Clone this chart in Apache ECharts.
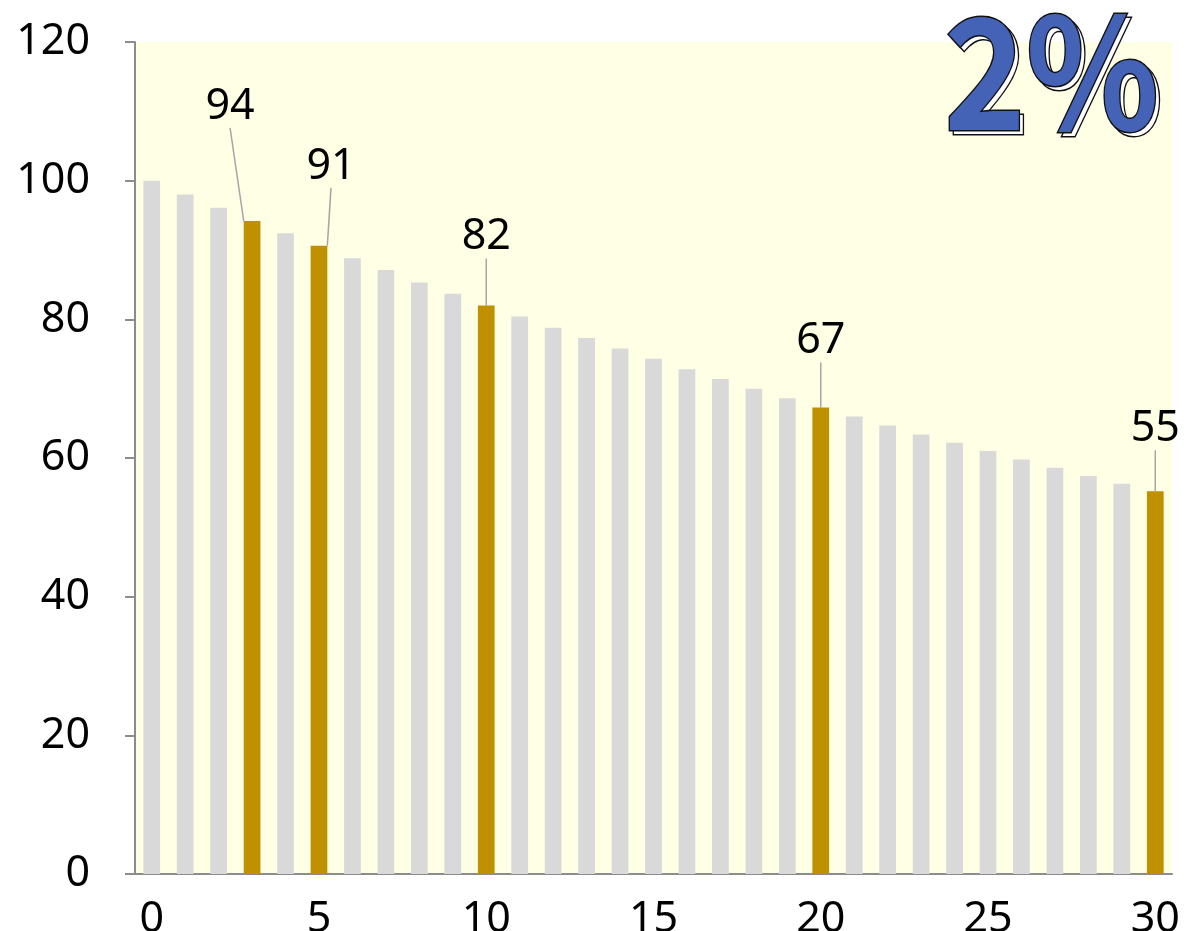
<!DOCTYPE html>
<html>
<head>
<meta charset="utf-8">
<script src="https://cdn.jsdelivr.net/npm/echarts@6/dist/echarts.min.js"></script>
<style>
  html, body { margin: 0; padding: 0; background: #fff; }
  #chart { width: 1203px; height: 931px; }
</style>
</head>
<body>
<div id="chart"></div>
<script>
// years 0..30
var years = [];
for (var i = 0; i <= 30; i++) years.push(String(i));

// value
var values = [100.0, 98.0, 96.1, 94.2, 92.4, 90.6, 88.8, 87.1, 85.3, 83.7,
  82.0, 80.4, 78.8, 77.3, 75.8, 74.3, 72.8, 71.4, 70.0, 68.6,
  67.3, 66.0, 64.7, 63.4, 62.2, 61.0, 59.8, 58.6, 57.4, 56.3, 55.2];

// highlighted years (gold bars with labels)
var highlight = [3, 5, 10, 20, 30];

var yTicks = [0, 20, 40, 60, 80, 100, 120];
var rateText = '2%';

var FONT = '"Noto Sans", sans-serif';
var BIG_FONT = '"Noto Sans CJK JP", "Noto Sans", sans-serif';

// label offsets (px) for the highlighted bars
var labelShift = { 3: [-22, -88], 5: [12, -53], 10: [0, -42], 20: [0, -40], 30: [0, -36] };

var barData = values.map(function (v, i) {
  var on = highlight.indexOf(i) >= 0;
  return {
    value: v,
    itemStyle: { color: on ? '#BF9000' : '#D9D9D9' },
    label: { show: on }
  };
});

var myChart = echarts.init(document.getElementById('chart'));

var option = {
  animation: false,
  grid: {
    left: 135, right: 31, top: 42, bottom: 57,
    outerBoundsMode: 'none',
    show: true, backgroundColor: '#FFFFE5', borderWidth: 0
  },
  xAxis: {
    type: 'category',
    data: years,
    boundaryGap: true,
    axisLine: { lineStyle: { color: '#8C8C8C', width: 2 } },
    axisTick: { interval: 4, length: 10, lineStyle: { color: '#8C8C8C', width: 2 } },
    axisLabel: { interval: 4, margin: 24, color: '#000', fontSize: 43, fontFamily: FONT }
  },
  yAxis: {
    type: 'value',
    min: yTicks[0], max: yTicks[yTicks.length - 1], interval: 20,
    axisLine: { show: true, lineStyle: { color: '#8C8C8C', width: 2 } },
    axisTick: { show: true, length: 10, lineStyle: { color: '#8C8C8C', width: 2 } },
    splitLine: { show: false },
    axisLabel: { margin: 45, color: '#000', fontSize: 43, fontFamily: FONT }
  },
  series: [{
    type: 'bar',
    data: barData,
    barWidth: '50%',
    label: {
      position: 'top',
      distance: 5,
      color: '#000',
      fontSize: 43,
      fontFamily: FONT,
      formatter: function (p) { return Math.round(p.value); }
    },
    labelLine: { show: true, lineStyle: { color: '#A6A6A6', width: 1.5 } },
    labelLayout: function (p) {
      var s = labelShift[p.dataIndex];
      return s ? { dx: s[0], dy: s[1] } : {};
    }
  }],
  graphic: [{
    type: 'text', x: 948, y: -2, scaleX: 0.9, z: 10,
    style: {
      text: rateText, fontSize: 154, fontWeight: 'bold', fontFamily: BIG_FONT,
      textVerticalAlign: 'top',
      fill: '#fff', stroke: '#111', lineWidth: 3
    }
  }, {
    type: 'text', x: 944, y: -6, scaleX: 0.9, z: 11,
    style: {
      text: rateText, fontSize: 154, fontWeight: 'bold', fontFamily: BIG_FONT,
      textVerticalAlign: 'top',
      fill: '#4462B6', stroke: '#111', lineWidth: 3
    }
  }]
};

myChart.setOption(option);
</script>
</body>
</html>
